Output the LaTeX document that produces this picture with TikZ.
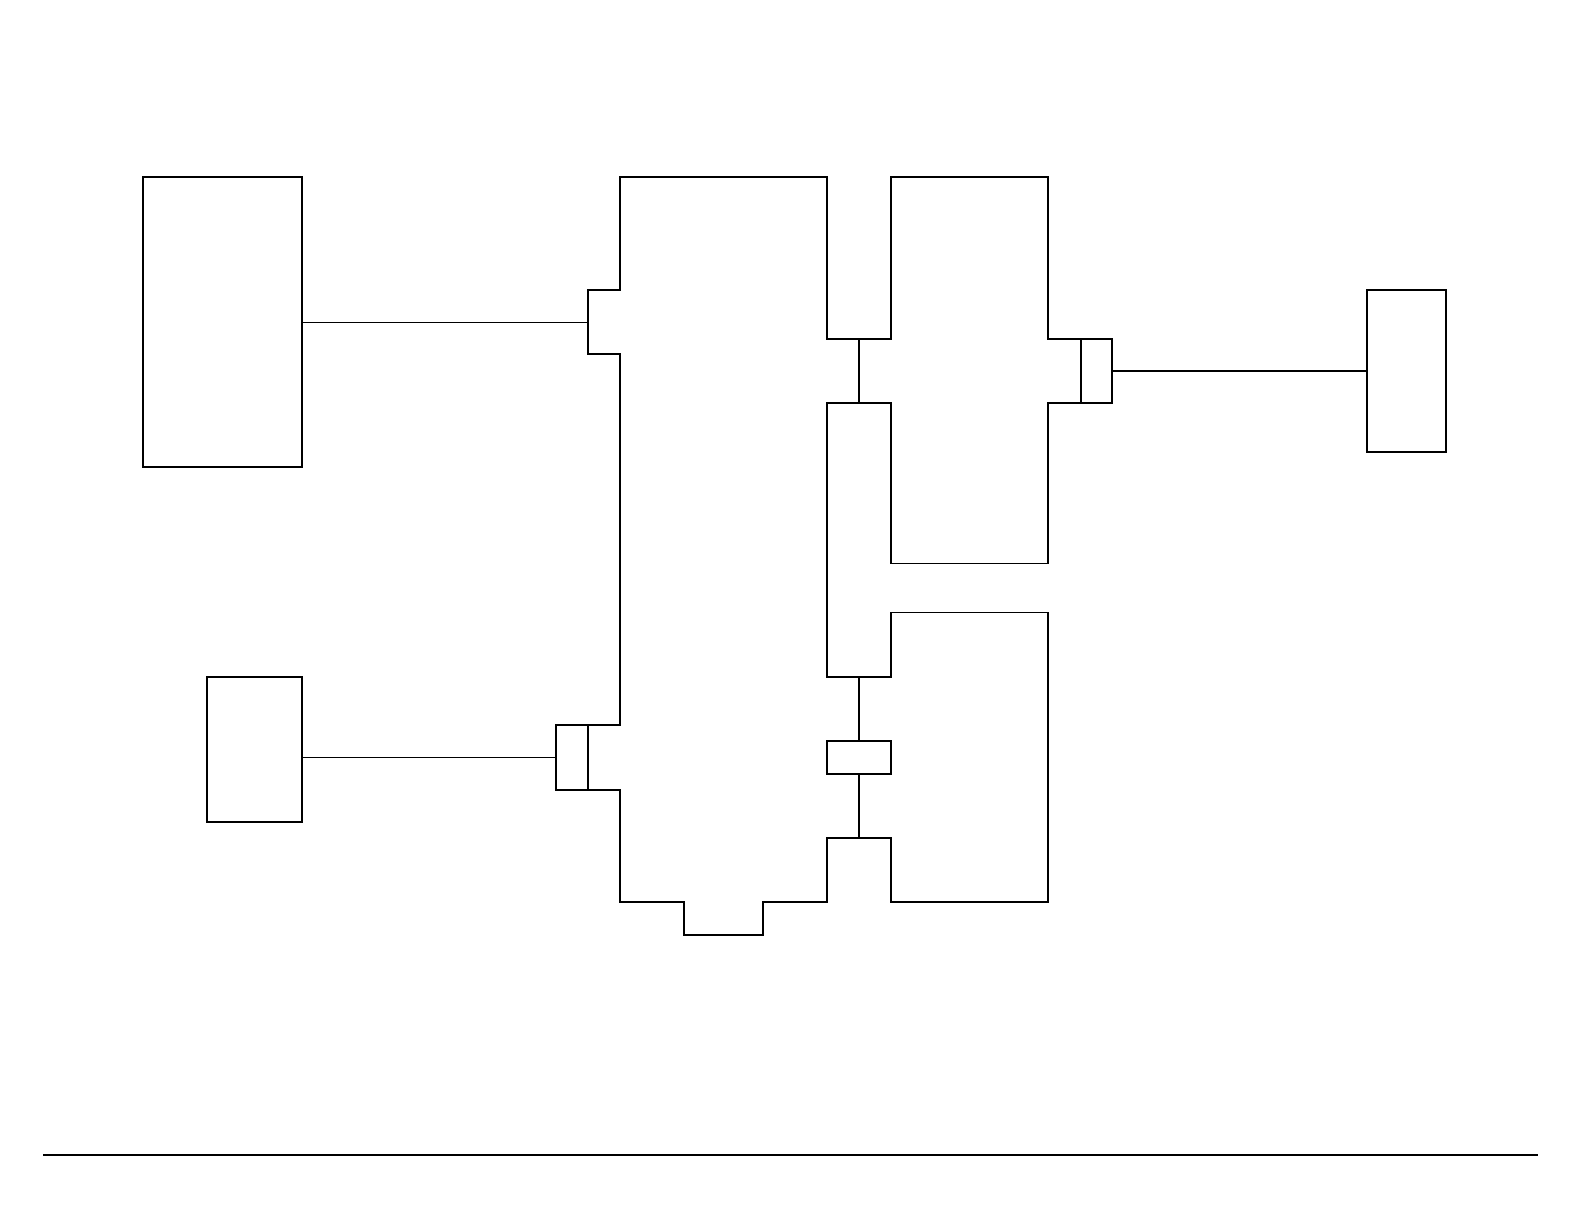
\documentclass[tikz,border=0pt]{standalone}
\begin{document}
\begin{tikzpicture}[x=0.5pt,y=-0.5pt,
  wall/.style={line width=0.7pt, line join=miter},
  box/.style={draw, line width=0.7pt, inner sep=0pt, outer sep=0pt},
  thin/.style={line width=0.45pt},
  link/.style={line width=0.7pt}]
\useasboundingbox (0,0) rectangle (1584,1224);
% boxes
\node[box, minimum width=79.5pt, minimum height=145pt] (lbox) at (222.5,322) {};
\node[box, minimum width=47.5pt, minimum height=72.5pt] (llbox) at (254.5,749.5) {};
\node[box, minimum width=39.5pt, minimum height=81pt] (rbox) at (1406.5,371) {};
\node[box, minimum width=16pt, minimum height=32.5pt] (pleft) at (572,757.5) {};
\node[box, minimum width=15.5pt, minimum height=32pt] (pright) at (1096.5,371) {};
\node[box, minimum width=32pt, minimum height=16.5pt] (pmid) at (859,757.5) {};
% main outline
\draw[wall] (891,339) -- (827,339) -- (827,177) -- (620,177) -- (620,290) -- (588,290)
  -- (588,354) -- (620,354) -- (620,725) -- (556,725) -- (556,790) -- (620,790)
  -- (620,902) -- (684,902) -- (684,935) -- (763,935) -- (763,902) -- (827,902)
  -- (827,838) -- (891,838) -- (891,902) -- (1048,902) -- (1048,612.5) -- (891,612.5)
  -- (891,677) -- (827,677) -- (827,403) -- (891,403) -- (891,563.5) -- (1048,563.5)
  -- (1048,403) -- (1112,403) -- (1112,339) -- (1048,339) -- (1048,177) -- (891,177)
  -- cycle;
\draw[wall] (588,725) -- (588,790);
\draw[wall] (1081,339) -- (1081,403);
% named points on the outline
\coordinate (n1) at (588,322);
\coordinate (t1) at (859,339);
\coordinate (b1) at (859,403);
\coordinate (t2) at (859,677);
\coordinate (b2) at (859,838);
% connectors
\draw[thin] (lbox.east) -- (n1);
\draw[thin] (llbox.east |- pleft.west) -- (pleft.west);
\draw[link] (pright.east) -- (rbox.west);
\draw[link] (t1) -- (b1);
\draw[link] (t2) -- (pmid.north);
\draw[link] (pmid.south) -- (b2);
% bottom rule
\coordinate (r1) at (43,1155);
\coordinate (r2) at (1537.5,1155);
\draw[line width=0.6pt] (r1) -- (r2);
\end{tikzpicture}
\end{document}
